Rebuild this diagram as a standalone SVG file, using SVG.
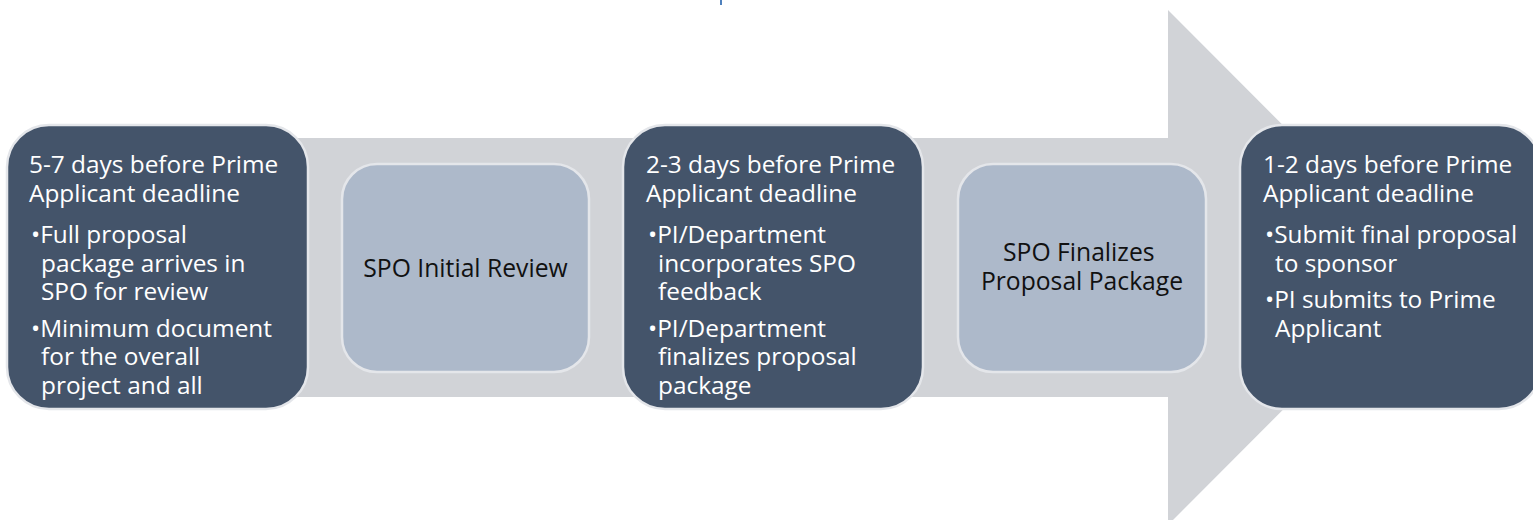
<svg xmlns="http://www.w3.org/2000/svg" width="1533" height="520" viewBox="0 0 1533 520">
  <style>
    .dark { fill: #44546a; stroke: #e4e6ea; stroke-width: 2.5; }
    .light { fill: #adb9ca; stroke: #e4e6ea; stroke-width: 2.5; }
    .dt { font-family: "Open Sans", "DejaVu Sans", sans-serif; font-size: 24.4px; fill: #ffffff; }
    .lt { font-family: "Open Sans", "DejaVu Sans", sans-serif; font-size: 24.7px; fill: #111111; text-anchor: middle; }
  </style>
  <defs>
    <clipPath id="c1"><rect x="7" y="125" width="301" height="276"/></clipPath>
    <clipPath id="c3"><rect x="623" y="125" width="300" height="276"/></clipPath>
    <clipPath id="c5"><rect x="1240" y="125" width="301" height="276"/></clipPath>
  </defs>
  <rect width="1533" height="520" fill="#ffffff"/>
  <rect x="720" y="0" width="2" height="5" fill="#4f81bd"/>
  <g id="connectors">
    <polygon points="30,138 1168,138 1168,10 1425,267.5 1168,525 1168,397 30,397" fill="#d1d3d7"/>
  </g>
  <g id="node1">
    <rect class="dark" x="7" y="125" width="301" height="284" rx="42"/>
    <g clip-path="url(#c1)">
      <text class="dt">
        <tspan x="29" y="173">5-7 days before Prime</tspan>
        <tspan x="29" y="202">Applicant deadline</tspan>
        <tspan x="31" y="243">•Full proposal</tspan>
        <tspan x="41" y="271.5">package arrives in</tspan>
        <tspan x="41" y="300">SPO for review</tspan>
        <tspan x="31" y="336.5">•Minimum document</tspan>
        <tspan x="41" y="365">for the overall</tspan>
        <tspan x="41" y="393.5">project and all</tspan>
      </text>
    </g>
  </g>
  <g id="node2">
    <rect class="light" x="342" y="164" width="247" height="208" rx="35"/>
    <text class="lt" x="465.5" y="277">SPO Initial Review</text>
  </g>
  <g id="node3">
    <rect class="dark" x="623" y="125" width="300" height="284" rx="42"/>
    <g clip-path="url(#c3)">
      <text class="dt">
        <tspan x="646" y="173">2-3 days before Prime</tspan>
        <tspan x="646" y="202">Applicant deadline</tspan>
        <tspan x="648" y="243">•PI/Department</tspan>
        <tspan x="658" y="271.5">incorporates SPO</tspan>
        <tspan x="658" y="300">feedback</tspan>
        <tspan x="648" y="336.5">•PI/Department</tspan>
        <tspan x="658" y="365">finalizes proposal</tspan>
        <tspan x="658" y="393.5">package</tspan>
      </text>
    </g>
  </g>
  <g id="node4">
    <rect class="light" x="958" y="164" width="248" height="208" rx="35"/>
    <text class="lt">
      <tspan x="1082" y="261">SPO Finalizes</tspan>
      <tspan x="1082" y="290">Proposal Package</tspan>
    </text>
  </g>
  <g id="node5">
    <rect class="dark" x="1240" y="125" width="301" height="284" rx="42"/>
    <g clip-path="url(#c5)">
      <text class="dt">
        <tspan x="1263" y="173">1-2 days before Prime</tspan>
        <tspan x="1263" y="202">Applicant deadline</tspan>
        <tspan x="1265" y="243">•Submit final proposal</tspan>
        <tspan x="1275" y="271.5">to sponsor</tspan>
        <tspan x="1265" y="308">•PI submits to Prime</tspan>
        <tspan x="1275" y="336.5">Applicant</tspan>
      </text>
    </g>
  </g>
</svg>
